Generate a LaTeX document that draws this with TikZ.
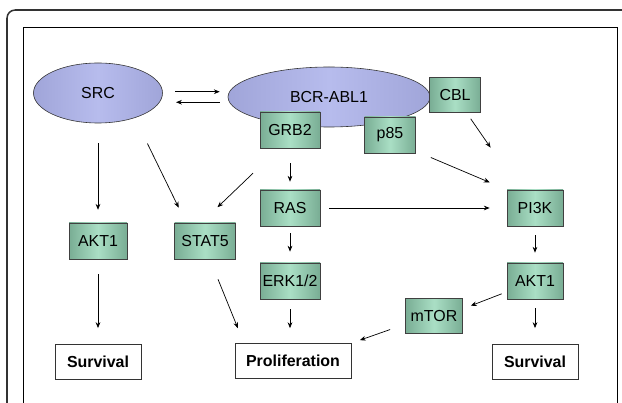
\documentclass[tikz,border=0pt]{standalone}
\usepackage{fontspec}
\setmainfont{Liberation Sans}
\usetikzlibrary{shapes.geometric,arrows.meta}
\definecolor{ovaledge}{HTML}{A0A5D9}
\definecolor{ovalmid}{HTML}{B7BCED}
\definecolor{boxedge}{HTML}{79AD94}
\definecolor{boxmid}{HTML}{AADFC5}
\definecolor{framegray}{HTML}{333333}
\tikzset{
  oval/.style={ellipse, draw=black!80, line width=0.5pt, left color=ovaledge,
    right color=ovaledge, middle color=ovalmid, inner sep=0pt, minimum height=1.8cm},
  gene/.style={rectangle, draw=black!75, line width=0.6pt, left color=boxedge,
    right color=boxedge, middle color=boxmid, inner sep=0pt, minimum width=1.8cm,
    minimum height=1.08cm},
  fate/.style={rectangle, draw=black!80, fill=white, line width=0.6pt,
    font=\fontsize{13.6}{16}\selectfont\bfseries,
    inner sep=0pt, minimum width=2.58cm, minimum height=1.05cm},
}
\begin{document}
\begin{tikzpicture}[font=\fontsize{13.6}{16}\selectfont, >={Stealth[length=5pt,width=4pt]},
    every edge/.append style={line width=0.6pt}]
    \def\x{0.03}
    \def\y{-0.03}
    \useasboundingbox (0,0) rectangle (622*\x, 403*\y);
    \clip (0,0) rectangle (622*\x, 403*\y);
    \draw [framegray, line width=1.3pt, rounded corners=7pt] (7*\x, 440*\y) |- (650*\x, 10*\y);
    \draw [line width=0.8pt] (23*\x, 440*\y) |- (617*\x, 27*\y) -- (617*\x, 440*\y);
    \node [oval, minimum width=3.87cm] (A0_0) at (98*\x, 93*\y) {SRC};
    \node [oval, minimum width=6.06cm] (A0_1) at (329*\x, 97*\y) {BCR-ABL1};
    \node [gene, minimum width=1.53cm, minimum height=1.05cm] (A0_2) at (455*\x, 95*\y) {CBL};
    \node [gene] (A1_1) at (290*\x, 130*\y) {GRB2};
    \node [gene, minimum width=1.53cm] (A1_2) at (390*\x, 135*\y) {p85};
    \node [gene] (A2_1) at (290*\x, 208*\y) {RAS};
    \node [gene, minimum width=1.68cm] (A2_2) at (535*\x, 208*\y) {PI3K};
    \node [gene, minimum width=1.74cm] (A3_0) at (98*\x, 241*\y) {AKT1};
    \node [gene, minimum width=1.83cm] (A3_1) at (205*\x, 241*\y) {STAT5};
    \node [gene] (A4_1) at (290*\x, 281*\y) {ERK1/2};
    \node [gene, minimum width=1.68cm] (A4_2) at (535*\x, 281*\y) {AKT1};
    \node [gene, minimum width=1.71cm, minimum height=1.05cm] (A5_2) at (434*\x, 316*\y) {mTOR};
    \node [fate] (A6_0) at (98*\x, 362*\y) {Survival};
    \node [fate, minimum width=3.48cm] (A6_1) at (293*\x, 361*\y) {Proliferation};
    \node [fate] (A6_2) at (535*\x, 362*\y) {Survival};
    \path ([yshift=1.1pt]A0_0.east) edge [->, shorten <=10.7pt, shorten >=6.8pt] ([yshift=1.1pt]A0_0.east -| A0_1.west);
    \path ([yshift=-7.9pt]A0_0.east -| A0_1.west) edge [->, shorten <=6.8pt, shorten >=11.3pt] ([yshift=-7.9pt]A0_0.east);
    \path (A0_0.south) edge [->, shorten <=17pt, shorten >=11pt] (A0_0.south |- A3_0.north);
    \path (A0_0.-34) edge [->, shorten <=24.4pt, shorten >=14.2pt] (A3_1.136);
    \path (A1_1.239) edge [->, shorten <=30.7pt, shorten >=19pt] (A3_1.101);
    \path (A1_1.south) edge [->, shorten <=12.8pt, shorten >=6.8pt] (A2_1.north);
    \path (A2_1.east) edge [->, shorten <=7.7pt, shorten >=14.5pt] (A2_2.west);
    \path (A0_2.-57) edge [->, shorten <=6.2pt, shorten >=43.6pt] (A2_2.130);
    \path (A1_2.-32) edge [->, shorten <=13.9pt, shorten >=15.8pt] (A2_2.147);
    \path (A2_1.south) edge [->, shorten <=6pt, shorten >=9.4pt] (A4_1.north);
    \path (A2_2.south) edge [->, shorten <=7.7pt, shorten >=8.5pt] (A4_2.north);
    \path (A3_0.south) edge [->, shorten <=12.8pt, shorten >=13.7pt] (A3_0.south |- A6_0.north);
    \path (A3_1.-75) edge [->, shorten <=18.4pt, shorten >=13.8pt] (A6_1.160);
    \path (A4_1.south) edge [->, shorten <=8.5pt, shorten >=12.8pt] (A4_1.south |- A6_1.north);
    \path (A4_2.201) edge [->, shorten <=4.6pt, shorten >=7.3pt] (A5_2.14);
    \path (A4_2.south) edge [->, shorten <=7.7pt, shorten >=13.7pt] (A6_2.north);
    \path (A5_2.196) edge [->, shorten <=13.6pt, shorten >=7.7pt] (A6_1.17);
  \end{tikzpicture}
\end{document}
